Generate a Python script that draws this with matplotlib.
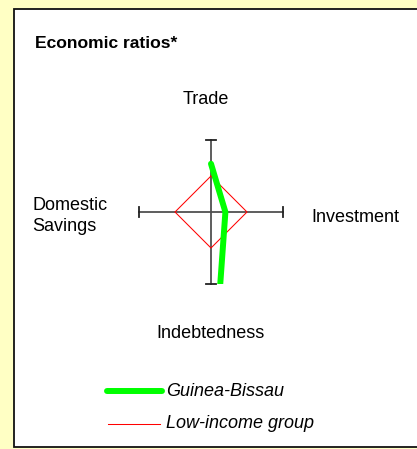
import numpy as np
import matplotlib
matplotlib.use("Agg")
import matplotlib.pyplot as plt
from matplotlib.patches import Rectangle

# ---- data ----
categories = ["Trade", "Investment", "Indebtedness", "Domestic\nSavings"]
angles_deg = [90, 0, -90, 180]
guinea_bissau = [0.67, 0.20, 2.8, np.nan]   # normalized; indebtedness off-scale, savings missing
low_income = [0.5, 0.5, 0.5, 0.5]
series_names = ["Guinea-Bissau", "Low-income group"]

W, H = 417, 449
fig = plt.figure(figsize=(W / 100, H / 100), dpi=100)
fig.patch.set_facecolor("#FFFFC4")
plt.rcParams['font.family'] = ['Liberation Sans', 'DejaVu Sans']

# white panel with border
fig.patches.append(Rectangle((14 / W, 1 - 447 / H), 420 / W, 438 / H,
                             transform=fig.transFigure, facecolor="white",
                             edgecolor="#111111", linewidth=1.3, zorder=-5))

# axes spanning exactly [-1, 1]
cx, cy, r = 211, 212, 72
ax = fig.add_axes([(cx - r) / W, 1 - (cy + r) / H, 2 * r / W, 2 * r / H])
ax.set_zorder(2)
ax.set_xlim(-1, 1)
ax.set_ylim(-1, 1)
ax.axis("off")
ax.patch.set_alpha(0)

axis_col = "#505050"
cap = 0.075
for a in angles_deg:
    t = np.deg2rad(a)
    ax.plot([0, np.cos(t)], [0, np.sin(t)], color=axis_col, lw=1.3, clip_on=False, zorder=1)
    # end caps
    px, py = -np.sin(t), np.cos(t)
    ax.plot([np.cos(t) - cap * px, np.cos(t) + cap * px],
            [np.sin(t) - cap * py, np.sin(t) + cap * py],
            color="#222222", lw=1.3, clip_on=False, zorder=1)

def to_xy(vals):
    xs, ys = [], []
    for v, a in zip(vals, angles_deg):
        t = np.deg2rad(a)
        xs.append(v * np.cos(t))
        ys.append(v * np.sin(t))
    return np.array(xs), np.array(ys)

# low-income (closed)
lx, ly = to_xy(low_income)
ax.plot(np.append(lx, lx[0]), np.append(ly, ly[0]), color="#FF0000", lw=0.75, zorder=2)

# Guinea-Bissau (open, clipped)
gx, gy = to_xy(guinea_bissau)
ax.plot(gx, gy, color="#00FF00", lw=4.3, solid_capstyle="round", zorder=3)

# category labels
fig.text(206 / W, 1 - 99 / H, categories[0], ha="center", va="center", fontsize=13)
fig.text(311 / W, 1 - 217 / H, categories[1], ha="left", va="center", fontsize=13)
fig.text(210 / W, 1 - 333 / H, categories[2], ha="center", va="center", fontsize=13)
fig.text(32 / W, 1 - 216 / H, categories[3], ha="left", va="center", fontsize=13,
         linespacing=1.25)

# title
fig.text(35 / W, 1 - 44 / H, "Economic ratios*", ha="left", va="center",
         fontsize=12.6, fontweight="bold")

# legend
fig.lines.append(plt.Line2D([107 / W, 162 / W], [1 - 391 / H] * 2, transform=fig.transFigure,
                            color="#00FF00", lw=4.3, solid_capstyle="round"))
fig.lines.append(plt.Line2D([108 / W, 160 / W], [1 - 424 / H] * 2, transform=fig.transFigure,
                            color="#FF0000", lw=0.75))
fig.text(166 / W, 1 - 392 / H, series_names[0], ha="left", va="center", fontsize=13, style="italic")
fig.text(166 / W, 1 - 424 / H, series_names[1], ha="left", va="center", fontsize=13, style="italic")

fig.savefig("out.png", dpi=100, facecolor=fig.get_facecolor())
